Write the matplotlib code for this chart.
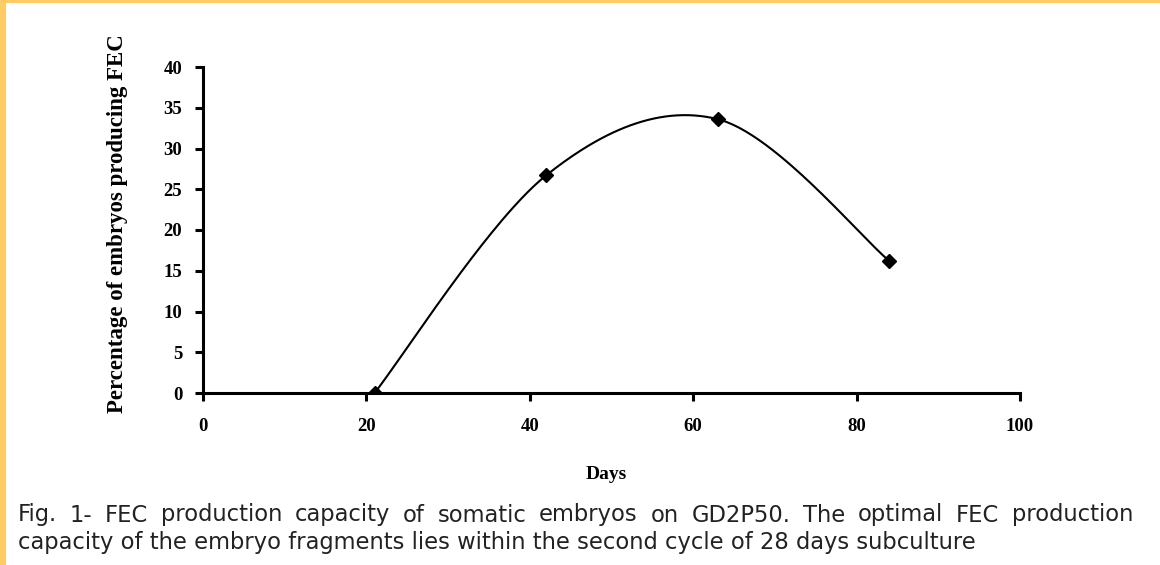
import numpy as np
import matplotlib
matplotlib.use('Agg')
import matplotlib.pyplot as plt
from matplotlib.patches import Rectangle

# data
days = [21, 42, 63, 84]
fec_pct = [0.0, 26.7, 33.6, 16.2]
x_ticks = [0, 20, 40, 60, 80, 100]
y_ticks = [0, 5, 10, 15, 20, 25, 30, 35, 40]

caption_1 = "Fig. 1- FEC production capacity of somatic embryos on GD2P50. The optimal FEC production"
caption_2 = "capacity of the embryo fragments lies within the second cycle of 28 days subculture"


def smooth(xs, ys, n=60):
    # Excel-like smoothed line (Catmull-Rom through the points)
    pts = np.column_stack([xs, ys]).astype(float)
    out = []
    for i in range(len(pts) - 1):
        p0 = pts[i - 1] if i > 0 else pts[i]
        p1 = pts[i]
        p2 = pts[i + 1]
        p3 = pts[i + 2] if i + 2 < len(pts) else pts[i + 1]
        c1 = p1 + (p2 - p0) / 6
        c2 = p2 - (p3 - p1) / 6
        t = np.linspace(0, 1, n)[:, None]
        seg = ((1 - t) ** 3) * p1 + 3 * ((1 - t) ** 2) * t * c1 + 3 * (1 - t) * t ** 2 * c2 + t ** 3 * p2
        out.append(seg)
    out = np.vstack(out)
    return out[:, 0], out[:, 1]


W, H = 1160, 565
fig = plt.figure(figsize=(W / 100, H / 100), dpi=100)
fig.patch.set_facecolor('white')

# orange frame (left and top)
fig.patches.append(Rectangle((0, 0), 6 / W, 1, transform=fig.transFigure,
                             facecolor='#ffcb66', edgecolor='none'))
fig.patches.append(Rectangle((0, 1 - 3 / H), 1, 3 / H, transform=fig.transFigure,
                             facecolor='#ffcb66', edgecolor='none'))

ax = fig.add_axes([203 / W, 1 - 393 / H, 817 / W, 326 / H])

sx, sy = smooth(days, fec_pct)
ax.plot(sx, sy, color='black', lw=1.5)
ax.plot(days, fec_pct, linestyle='none', marker='D', color='black', markersize=7)

ax.set_xlim(0, 100)
ax.set_ylim(0, 40)
ax.set_xticks(x_ticks)
ax.set_yticks(y_ticks)

serif = {'family': 'Liberation Serif', 'weight': 'bold', 'size': 13.5}
ax.set_xticklabels([str(v) for v in x_ticks], fontdict=serif)
ax.set_yticklabels([str(v) for v in y_ticks], fontdict=serif)

for s in ['top', 'right']:
    ax.spines[s].set_visible(False)
for s in ['left', 'bottom']:
    ax.spines[s].set_linewidth(2.2)
ax.tick_params(axis='both', direction='out', length=6, width=2.2)
ax.tick_params(axis='x', pad=12)
ax.tick_params(axis='y', pad=9)

ax.set_ylabel('Percentage of embryos producing FEC', fontdict={'family': 'Liberation Serif',
                                                              'weight': 'bold', 'size': 16.5})
ax.yaxis.set_label_coords(-0.092, 0.52)
ax.set_xlabel('Days', fontdict={'family': 'Liberation Serif', 'weight': 'bold', 'size': 14})
ax.xaxis.set_label_coords(0.494, -0.224)

# caption: first line justified to the right edge, second line left aligned
cap_font = dict(fontsize=16.3, family='DejaVu Sans', color='#222222', va='baseline', ha='left')
renderer = fig.canvas.get_renderer()
words = caption_1.split()
left, right = 18, 1133
widths = []
for w in words:
    t = fig.text(0, 0, w, **cap_font)
    widths.append(t.get_window_extent(renderer).width)
    t.remove()
gap = (right - left - sum(widths)) / (len(words) - 1)
x = left
for w, wd in zip(words, widths):
    fig.text(x / W, 1 - 521.5 / H, w, **cap_font)
    x += wd + gap
fig.text(left / W, 1 - 548.5 / H, caption_2, **cap_font)

fig.savefig('out.png', dpi=100)
